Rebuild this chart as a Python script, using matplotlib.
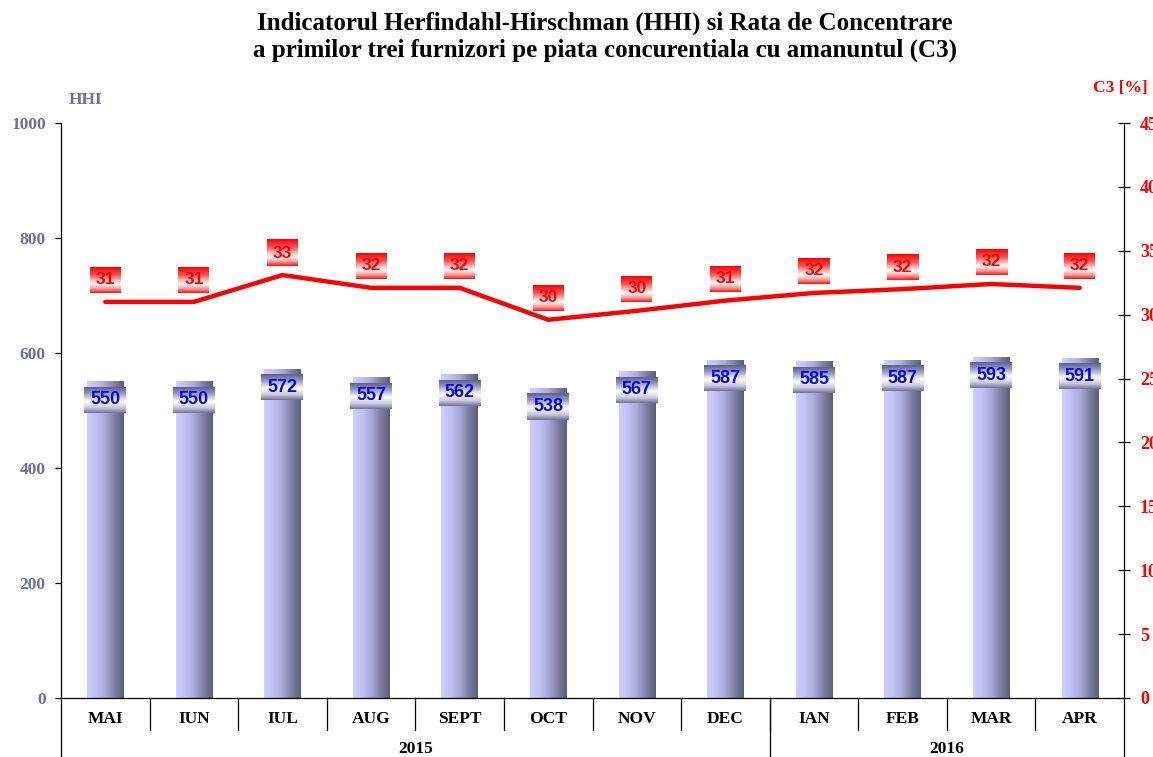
import numpy as np
import matplotlib.pyplot as plt
from matplotlib.colors import LinearSegmentedColormap
import matplotlib.transforms as mtransforms

months = ['MAI', 'IUN', 'IUL', 'AUG', 'SEPT', 'OCT', 'NOV', 'DEC', 'IAN', 'FEB', 'MAR', 'APR']
years = ['2015', '2016']
year_counts = [8, 4]
hhi = [550, 550, 572, 557, 562, 538, 567, 587, 585, 587, 593, 591]
c3 = [31.0, 31.0, 33.1, 32.1, 32.1, 29.6, 30.3, 31.1, 31.7, 32.0, 32.4, 32.1]
c3_labels = [31, 31, 33, 32, 32, 30, 30, 31, 32, 32, 32, 32]

slate = '#6E6EA0'
serif = 'Liberation Serif'
sans = 'Liberation Sans'

bar_cmap = LinearSegmentedColormap.from_list(
    'bar', ['#CECEFF', '#C0C0F4', '#A8A8D8', '#7E7EA4', '#5C5C78'])
blue_box = LinearSegmentedColormap.from_list(
    'bbox', [(0, '#5E5E88'), (0.25, '#9A9AC0'), (0.55, '#FFFFFF'), (0.8, '#C8C8DC'), (1, '#6E6E98')])
red_box = LinearSegmentedColormap.from_list(
    'rbox', [(0, '#FF0000'), (0.3, '#FF5050'), (0.65, '#FFFFFF'), (0.85, '#FF9090'), (1, '#FF1010')])

fig = plt.figure(figsize=(11.53, 7.57), dpi=100)
ax = fig.add_axes([61 / 1153, 59 / 757, 1063 / 1153, 575 / 757])
x = np.arange(len(months))

ax.set_xlim(-0.5, len(months) - 0.5)
ax.set_ylim(0, 1000)

# gradient bars
bars = ax.bar(x, hhi, width=0.41, color='none', zorder=2)
hgrad = np.linspace(0, 1, 256).reshape(1, -1)
vgrad = np.linspace(0, 1, 256).reshape(-1, 1)
for b in bars:
    x0, w, h = b.get_x(), b.get_width(), b.get_height()
    ax.imshow(hgrad, cmap=bar_cmap, extent=[x0, x0 + w, 0, h], aspect='auto', zorder=2)

# blue value boxes (pixel sizes converted to data units)
px_x = 1063 / len(months)
px_y = 575 / 1000
for xi, v in zip(x, hhi):
    cy = v - 18 / px_y
    hw = 21 / px_x
    hh = 13 / px_y
    ax.imshow(vgrad, cmap=blue_box, extent=[xi - hw, xi + hw, cy - hh, cy + hh],
              aspect='auto', zorder=3)
    ax.text(xi, cy, str(v), ha='center', va='center', color='#0000FF',
            fontsize=13, fontweight='bold', family=sans, zorder=4)
ax.set_xlim(-0.5, len(months) - 0.5)
ax.set_ylim(0, 1000)

ax.set_yticks(np.arange(0, 1001, 200))
ax.tick_params(axis='y', direction='out', length=4, width=0.9, pad=7,
               labelcolor=slate, labelsize=12.5)
for lab in ax.get_yticklabels():
    lab.set_family(serif)
    lab.set_fontweight('bold')
ax.set_xticks([])
for s in ['top', 'right']:
    ax.spines[s].set_visible(False)
ax.spines['left'].set_linewidth(0.9)
ax.spines['bottom'].set_linewidth(0.9)

# C3 line on right axis
ax2 = ax.twinx()
ax2.set_ylim(0, 45)
ax2.plot(x, c3, color='#FF0000', lw=3.2, solid_capstyle='round', zorder=5)
px_y2 = 575 / 45
for xi, v, lab in zip(x, c3, c3_labels):
    cy = v + 22 / px_y2
    hw = 15.5 / px_x
    hh = 13 / px_y2
    ax2.imshow(vgrad, cmap=red_box, extent=[xi - hw, xi + hw, cy - hh, cy + hh],
               aspect='auto', zorder=6)
    ax2.text(xi, cy, str(lab), ha='center', va='center', color='#FF0000',
             fontsize=12.5, fontweight='bold', family=sans, zorder=7)
ax2.set_xlim(-0.5, len(months) - 0.5)
ax2.set_ylim(0, 45)
ax2.set_yticks(np.arange(0, 46, 5))
ax2.tick_params(axis='y', direction='inout', length=9, width=0.9, pad=7,
                labelcolor='#FF0000', labelsize=13)
for lab in ax2.get_yticklabels():
    lab.set_family(serif)
    lab.set_fontweight('bold')
for s in ['top', 'left', 'bottom']:
    ax2.spines[s].set_visible(False)
ax2.spines['right'].set_linewidth(0.9)

# category axis below the plot
trans = mtransforms.blended_transform_factory(ax.transData, ax.transAxes)
bottom = -59 / 575
for xi, m in zip(x, months):
    ax.text(xi, -21 / 575, m, transform=trans, ha='center', va='center',
            fontsize=12.5, fontweight='bold', family=serif)
for i in range(len(months) - 1):
    ax.plot([i + 0.5, i + 0.5], [0, -32 / 575], transform=trans, color='black',
            lw=0.9, clip_on=False)
start = 0
for yr, n in zip(years, year_counts):
    ax.text(start + (n - 1) / 2, -51 / 575, yr, transform=trans, ha='center',
            va='center', fontsize=12.5, fontweight='bold', family=serif)
    ax.plot([start - 0.5, start - 0.5], [0, bottom], transform=trans,
            color='black', lw=0.9, clip_on=False)
    start += n
ax.plot([start - 0.5, start - 0.5], [0, bottom], transform=trans,
        color='black', lw=0.9, clip_on=False)

# axis titles
fig.text(86 / 1153, 1 - 100 / 757, 'HHI', color=slate, ha='center', va='center',
         fontsize=12.5, fontweight='bold', family=serif)
fig.text(1120 / 1153, 1 - 88 / 757, 'C3 [%]', color='#FF0000', ha='center',
         va='center', fontsize=12.5, fontweight='bold', family=serif)

fig.text(605 / 1153, 1 - 37 / 757,
         'Indicatorul Herfindahl-Hirschman (HHI) si Rata de Concentrare\n'
         'a primilor trei furnizori pe piata concurentiala cu amanuntul (C3)',
         ha='center', va='center', fontsize=18, fontweight='bold', family=serif,
         linespacing=1.2)

fig.savefig('out.png', dpi=100)
